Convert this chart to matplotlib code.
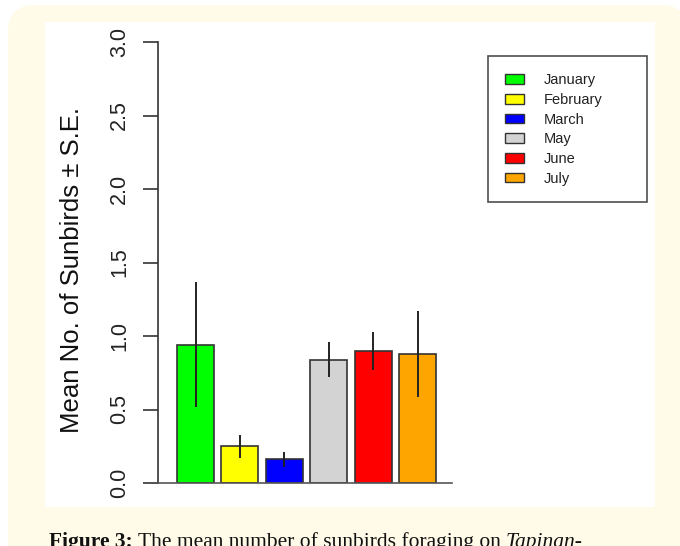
import numpy as np
import matplotlib
matplotlib.use("Agg")
import matplotlib.pyplot as plt
from matplotlib.patches import Patch, FancyBboxPatch, Rectangle

months = ["January", "February", "March", "May", "June", "July"]
means = [0.94, 0.25, 0.16, 0.84, 0.90, 0.875]
se = [0.425, 0.077, 0.053, 0.122, 0.128, 0.293]
colors = ["#00ff00", "#ffff00", "#0000ff", "#d3d3d3", "#ff0000", "#ffa500"]
yticks = [0.0, 0.5, 1.0, 1.5, 2.0, 2.5, 3.0]

W, H = 680, 546
fig = plt.figure(figsize=(W / 100, H / 100), dpi=100, facecolor="white")
plt.rcParams["font.family"] = ["Liberation Sans", "DejaVu Sans"]

# cream page frame + white figure panel
cream = "#fffbe8"
fig.patches.append(FancyBboxPatch((8 / W, -0.2), 1.0, 1.2 - 5 / H,
                                  boxstyle="round,pad=0,rounding_size=0.04",
                                  transform=fig.transFigure, fc=cream, ec="none",
                                  zorder=-10, mutation_aspect=W / H))
fig.patches.append(Rectangle((45 / W, 1 - 507 / H), 610 / W, 485 / H,
                             transform=fig.transFigure, fc="white", ec="none", zorder=-9))

ax = fig.add_axes([158 / W, 1 - 483 / H, 294 / W, 441 / H])
ax.patch.set_alpha(0)
x = 0.7 + 1.2 * np.arange(len(means))
ax.bar(x, means, width=1.0, color=colors, edgecolor="#333333", linewidth=1.2, zorder=2)
for xi, m, s in zip(x, means, se):
    ax.plot([xi, xi], [m - s, m + s], color="#222222", lw=1.4, zorder=3,
            solid_capstyle="butt")

ax.set_xlim(-0.313, 7.625)
ax.set_ylim(0, 3)
ax.spines["top"].set_visible(False)
ax.spines["right"].set_visible(False)
ax.spines["left"].set_color("#333333")
ax.spines["bottom"].set_color("#555555")
ax.spines["left"].set_linewidth(1.2)
ax.spines["bottom"].set_linewidth(1.2)
ax.set_xticks([])
ax.set_yticks(yticks)
ax.set_yticklabels([f"{t:.1f}" for t in yticks], rotation=90, va="center",
                   fontsize=15.5, color="#222222")
ax.tick_params(axis="y", length=11, width=1.2, color="#333333", pad=9)
ax.set_ylabel("Mean No. of Sunbirds \u00b1 S.E.", fontsize=18.5, color="#111111")
ax.yaxis.set_label_coords((84 - 158) / 294, (483 - 270) / 441)

handles = [Patch(facecolor=c, edgecolor="#333333", linewidth=1.0) for c in colors]
leg = fig.legend(handles, months, loc="upper left",
                 bbox_to_anchor=(488 / W, 1 - 57 / H, 159 / W, 0.001),
                 mode="expand", fontsize=10.5, frameon=True, fancybox=False,
                 edgecolor="#222222", borderpad=1.15, labelspacing=0.39,
                 handlelength=1.3, handleheight=0.62, handletextpad=1.4,
                 borderaxespad=0)
leg.get_frame().set_linewidth(1.2)
for t in leg.get_texts():
    t.set_color("#222222")

# caption, cut at the bottom edge as in the page scan
fig.canvas.draw()
r = fig.canvas.get_renderer()
parts = [("Figure 3:", "bold", "normal"),
         (" The mean number of sunbirds foraging on ", "normal", "normal"),
         ("Tapinan-", "normal", "italic")]
cx = 49
for txt, wt, st in parts:
    t = fig.text(cx / W, 1 - 547 / H, txt, fontsize=15.5, family="Liberation Serif",
                 fontweight=wt, fontstyle=st, color="#111111", va="baseline")
    cx += t.get_window_extent(r).width

fig.savefig("out.png", dpi=100, facecolor="white")
